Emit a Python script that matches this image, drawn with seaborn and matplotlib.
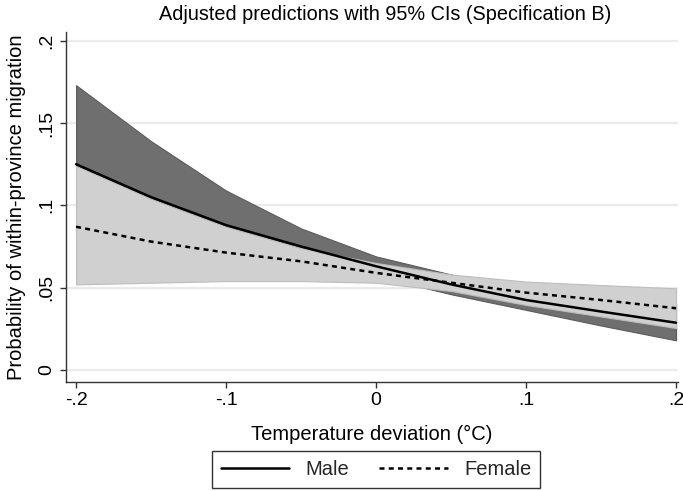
import numpy as np
import pandas as pd
import matplotlib
matplotlib.use("Agg")
import matplotlib.pyplot as plt
from matplotlib.lines import Line2D
import seaborn as sns

# ---- data ----
temp = [-0.2, -0.15, -0.1, -0.05, 0.0, 0.05, 0.1, 0.15, 0.2]
male = [0.125, 0.105, 0.088, 0.075, 0.063, 0.052, 0.0425, 0.0355, 0.0287]
male_lo = [0.080, 0.074, 0.068, 0.063, 0.057, 0.046, 0.0365, 0.027, 0.018]
male_hi = [0.173, 0.139, 0.109, 0.086, 0.069, 0.058, 0.049, 0.044, 0.040]
female = [0.087, 0.078, 0.0713, 0.066, 0.059, 0.053, 0.047, 0.0425, 0.0375]
female_lo = [0.052, 0.053, 0.054, 0.054, 0.053, 0.048, 0.0395, 0.0325, 0.0255]
female_hi = [0.124, 0.104, 0.087, 0.074, 0.065, 0.058, 0.0537, 0.0516, 0.0496]
xticks = [-0.2, -0.1, 0.0, 0.1, 0.2]
xticklabels = ["-.2", "-.1", "0", ".1", ".2"]
yticks = [0.0, 0.05, 0.1, 0.15, 0.2]
yticklabels = ["0", ".05", ".1", ".15", ".2"]
groups = ["Male", "Female"]

df = pd.DataFrame({
    "temp": temp + temp,
    "prob": male + female,
    "sex": ["Male"] * len(temp) + ["Female"] * len(temp),
})

sns.set_theme(style="white")
plt.rcParams["font.family"] = ["Liberation Sans", "DejaVu Sans"]

W, H = 683, 491
fig = plt.figure(figsize=(W / 100, H / 100), dpi=100)
L, R, T, B = 66, 678, 32, 382
ax = fig.add_axes([L / W, 1 - B / H, (R - L) / W, (B - T) / H])

dark = "#6f6f6f"
light = "#d0d0d0"
ax.fill_between(temp, male_lo, male_hi, facecolor=dark, edgecolor="#5c5c5c", linewidth=0.8, zorder=2)
ax.fill_between(temp, female_lo, female_hi, facecolor=light, edgecolor="#bdbdbd", linewidth=0.8, zorder=3)

sns.lineplot(data=df, x="temp", y="prob", hue="sex", style="sex",
             palette={"Male": "black", "Female": "black"},
             dashes={"Male": "", "Female": (2.0, 1.7)},
             linewidth=1.8, ax=ax, legend=False, zorder=4)

ax.set_xlim(-0.2067, 0.2013)
ax.set_ylim(-0.0073, 0.2053)
ax.set_xticks(xticks)
ax.set_xticklabels(xticklabels)
ax.set_yticks(yticks)
ax.set_yticklabels(yticklabels, rotation=90, va="center")
ax.grid(axis="y", color="#ebebeb", linewidth=1.6)
ax.grid(axis="x", visible=False)
ax.set_axisbelow(True)
for s in ["top", "right"]:
    ax.spines[s].set_visible(False)
for s in ["left", "bottom"]:
    ax.spines[s].set_color("#333333")
    ax.spines[s].set_linewidth(1.0)
ax.tick_params(axis="both", which="major", direction="out", length=4.5, width=1.0,
               color="#333333", labelsize=14, labelcolor="black", left=True, bottom=True)
ax.tick_params(axis="x", pad=3)
ax.tick_params(axis="y", pad=3)
ax.set_xlabel("Temperature deviation (°C)", fontsize=14.5, labelpad=11, color="black")
ax.set_ylabel("Probability of within-province migration", fontsize=14.5, labelpad=9, color="black")

fig.text(385 / W, 1 - 14 / H, "Adjusted predictions with 95% CIs (Specification B)",
         ha="center", va="center", fontsize=14.3, color="black")

handles = [Line2D([], [], color="black", linewidth=1.8, linestyle="-"),
           Line2D([], [], color="black", linewidth=1.8, linestyle=(0, (2.0, 1.7)))]
leg = fig.legend(handles, groups, loc="lower center", bbox_to_anchor=(376 / W, 1 - 488 / H),
                 ncol=2, frameon=True, fancybox=False, shadow=False, fontsize=14.5,
                 handlelength=3.4, handletextpad=0.8, columnspacing=1.5,
                 borderpad=0.45, borderaxespad=0)
leg.get_frame().set_edgecolor("black")
leg.get_frame().set_linewidth(1.0)

fig.savefig("out.png", dpi=100)
